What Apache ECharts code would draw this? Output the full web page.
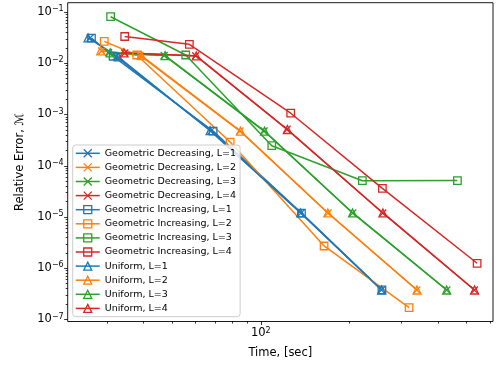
<!DOCTYPE html>
<html>
<head>
<meta charset="utf-8">
<script src="https://cdn.jsdelivr.net/npm/echarts@6/dist/echarts.min.js"></script>
<style>
  html, body { margin: 0; padding: 0; background: #fff; }
  #chart { width: 496px; height: 370px; }
</style>
</head>
<body>
<div id="chart"></div>
<script>
// Convergence of relative error vs. wall time for three grid refinement strategies.
// Each series: [time in seconds, relative error]
const geoDecL1 = [[26.3, 3.11e-2], [32.3, 1.34e-2], [67.8, 4.80e-4], [137.0, 1.20e-5], [257.0, 3.77e-7]];
const geoDecL2 = [[28.8, 1.73e-2], [38.9, 1.42e-2], [85.0, 4.76e-4], [169.3, 1.20e-5], [338.9, 3.76e-7]];
const geoDecL3 = [[30.4, 1.62e-2], [47.0, 1.42e-2], [102.6, 4.76e-4], [205.4, 1.20e-5], [428.6, 3.76e-7]];
const geoDecL4 = [[34.5, 1.59e-2], [60.1, 1.40e-2], [122.8, 5.14e-4], [259.7, 1.20e-5], [531.8, 3.76e-7]];

const geoIncL1 = [[26.6, 3.10e-2], [31.5, 1.37e-2], [68.9, 4.75e-4], [137.5, 1.19e-5], [258.0, 3.77e-7]];
const geoIncL2 = [[29.4, 2.68e-2], [37.9, 1.45e-2], [78.7, 2.90e-4], [164.1, 2.72e-6], [319.0, 1.70e-7]];
const geoIncL3 = [[30.9, 8.10e-2], [55.6, 1.45e-2], [109.0, 2.46e-4], [221.4, 5.11e-5], [465.6, 5.15e-5]];
const geoIncL4 = [[34.5, 3.33e-2], [57.2, 2.34e-2], [126.4, 1.06e-3], [258.9, 3.63e-5], [543.2, 1.25e-6]];

const uniformL1 = [[25.9, 3.13e-2], [32.8, 1.33e-2], [67.3, 4.85e-4], [136.6, 1.20e-5], [257.4, 3.76e-7]];
const uniformL2 = [[28.6, 1.75e-2], [39.3, 1.41e-2], [85.3, 4.74e-4], [169.0, 1.20e-5], [339.5, 3.76e-7]];
const uniformL3 = [[30.8, 1.60e-2], [47.3, 1.41e-2], [103.0, 4.74e-4], [205.0, 1.20e-5], [428.0, 3.76e-7]];
const uniformL4 = [[34.3, 1.60e-2], [60.4, 1.39e-2], [123.2, 5.10e-4], [260.0, 1.20e-5], [532.5, 3.76e-7]];

// Axis ranges and tick positions
const xRange = [22.09, 615];
const yRange = [9.14e-8, 0.152];
const xMajorTicks = [100];
const xMinorTicks = [30, 40, 50, 60, 70, 80, 90, 200, 300, 400, 500, 600];
const yMajorExps = [-7, -6, -5, -4, -3, -2, -1];

const FONT = 'DejaVu Sans';
const COLORS = ['#1f77b4', '#ff7f0e', '#2ca02c', '#d62728'];
const CROSS = 'path://M0,0L10,10M10,0L0,10';

const lg = Math.log10;
const yMinorTicks = [];
for (let e = -8; e <= -1; e++) {
  for (let k = 2; k <= 9; k++) {
    const v = k * Math.pow(10, e);
    if (v > yRange[0] && v < yRange[1]) yMinorTicks.push(v);
  }
}

function powLabel(v) {
  const e = Math.round(v);
  const s = (e < 0 ? '\u2212' : '') + Math.abs(e);
  return '{b|10}{s|' + s + '}';
}
const powRich = {
  b: { fontSize: 11.5, fontFamily: FONT, color: '#000', lineHeight: 14 },
  s: { fontSize: 8, fontFamily: FONT, color: '#000', lineHeight: 9, verticalAlign: 'top' }
};

const groups = [
  { label: 'Geometric Decreasing', sets: [geoDecL1, geoDecL2, geoDecL3, geoDecL4], symbol: CROSS, size: 7 },
  { label: 'Geometric Increasing', sets: [geoIncL1, geoIncL2, geoIncL3, geoIncL4], symbol: 'rect', size: 7.5 },
  { label: 'Uniform', sets: [uniformL1, uniformL2, uniformL3, uniformL4], symbol: 'triangle', size: 8 }
];

const series = [];
const names = [];
groups.forEach(g => {
  g.sets.forEach((d, i) => {
    const name = g.label + ', L=' + (i + 1);
    names.push(name);
    series.push({
      name: name,
      type: 'line',
      xAxisIndex: 0,
      yAxisIndex: 0,
      data: d,
      symbol: g.symbol,
      symbolSize: g.size,
      showSymbol: true,
      lineStyle: { color: COLORS[i], width: 1.5 },
      itemStyle: { color: 'rgba(0,0,0,0)', borderColor: COLORS[i], borderWidth: 1.3 },
      emphasis: { disabled: true },
      clip: false,
      z: 2
    });
  });
});

const tickStyle = { color: '#000', width: 0.8 };

const option = {
  animation: false,
  backgroundColor: '#fff',
  textStyle: { fontFamily: FONT },
  grid: {
    left: 67.7, right: 3, top: 2.7, bottom: 48.5,
    show: true, borderColor: '#000', borderWidth: 0.9, backgroundColor: 'transparent',
    containLabel: false, outerBoundsMode: 'none'
  },
  legend: {
    orient: 'vertical',
    left: 72.7, top: 145,
    itemWidth: 24, itemHeight: 10, itemGap: 3.1,
    padding: [2.8, 4, 2.8, 2.3],
    backgroundColor: 'rgba(255,255,255,0.8)',
    borderColor: '#cccccc', borderWidth: 1, borderRadius: 3,
    selectedMode: false,
    textStyle: { fontSize: 9.5, lineHeight: 11, color: '#000', fontFamily: FONT },
    lineStyle: { width: 1.5 },
    itemStyle: { borderWidth: 1.3 },
    data: names
  },
  xAxis: [
    { // data axis
      type: 'log', logBase: 10, min: xRange[0], max: xRange[1], position: 'bottom',
      show: false
    },
    { // major ticks, labels and title
      type: 'value', min: lg(xRange[0]), max: lg(xRange[1]), position: 'bottom',
      axisLine: { show: false }, splitLine: { show: false },
      axisTick: { show: true, length: 3.5, lineStyle: tickStyle, customValues: xMajorTicks.map(lg) },
      axisLabel: { show: true, margin: 5, customValues: xMajorTicks.map(lg), formatter: powLabel, rich: powRich },
      name: 'Time, [sec]', nameLocation: 'middle', nameGap: 24.5,
      nameTextStyle: { fontSize: 11.5, color: '#000', fontFamily: FONT, lineHeight: 14 }
    },
    { // minor ticks
      type: 'value', min: lg(xRange[0]), max: lg(xRange[1]), position: 'bottom',
      axisLine: { show: false }, splitLine: { show: false }, axisLabel: { show: false },
      axisTick: { show: true, length: 2, lineStyle: tickStyle, customValues: xMinorTicks.map(lg) }
    }
  ],
  yAxis: [
    {
      type: 'log', logBase: 10, min: yRange[0], max: yRange[1], position: 'left',
      show: false
    },
    {
      type: 'value', min: lg(yRange[0]), max: lg(yRange[1]), position: 'left',
      axisLine: { show: false }, splitLine: { show: false },
      axisTick: { show: true, length: 3.5, lineStyle: tickStyle, customValues: yMajorExps },
      axisLabel: { show: true, margin: 4, customValues: yMajorExps, formatter: powLabel, rich: powRich },
      name: 'Relative Error, \u2133', nameLocation: 'middle', nameGap: 41, nameRotate: 90,
      nameTextStyle: { fontSize: 11.5, color: '#000', fontFamily: FONT }
    },
    {
      type: 'value', min: lg(yRange[0]), max: lg(yRange[1]), position: 'left',
      axisLine: { show: false }, splitLine: { show: false }, axisLabel: { show: false },
      axisTick: { show: true, length: 2, lineStyle: tickStyle, customValues: yMinorTicks.map(lg) }
    }
  ],
  series: series
};

const chart = echarts.init(document.getElementById('chart'), null, { renderer: 'canvas' });
chart.setOption(option);
</script>
</body>
</html>
